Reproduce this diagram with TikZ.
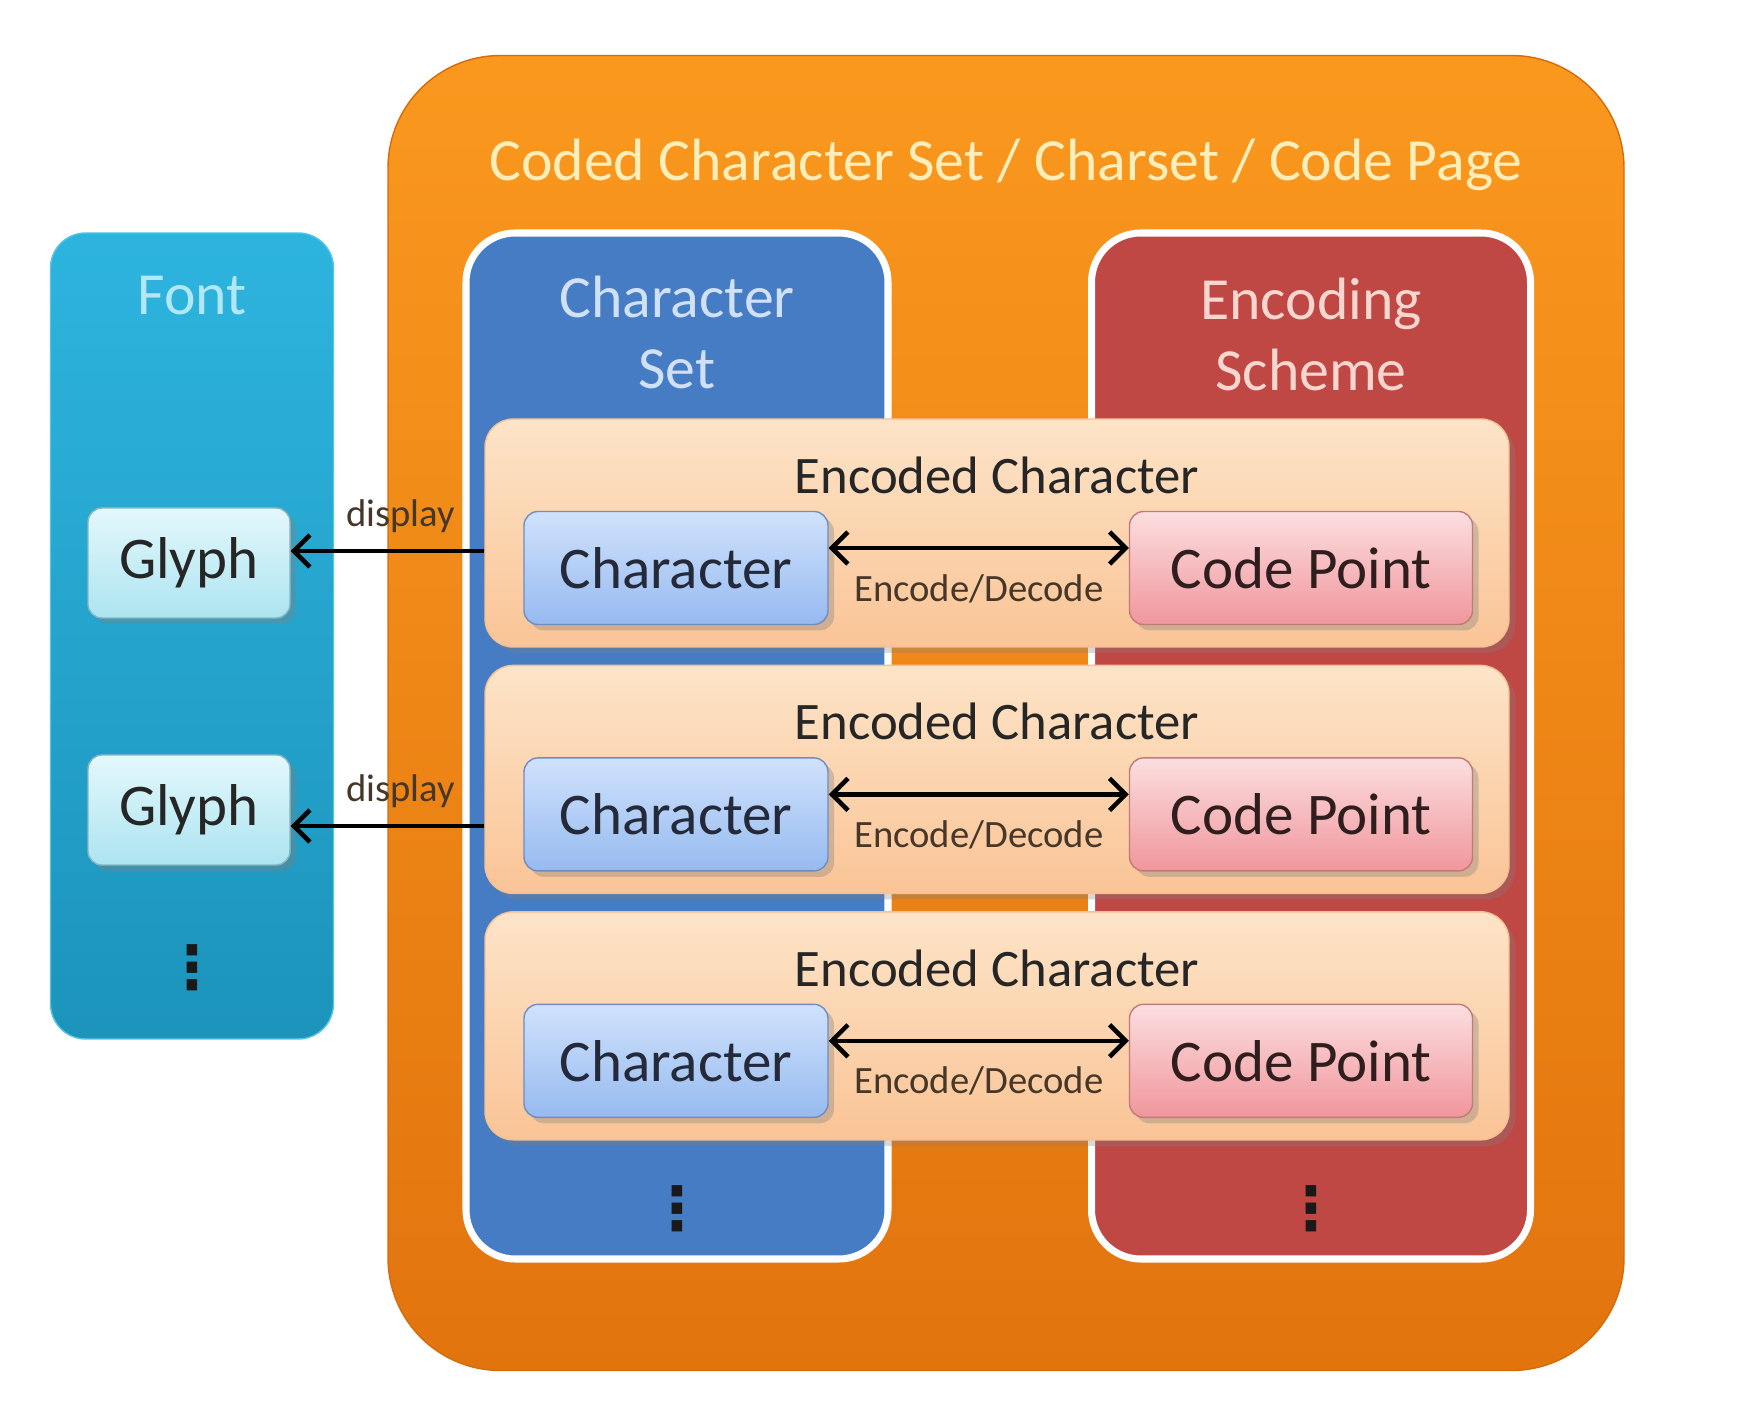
\documentclass[tikz,border=0pt]{standalone}
\usepackage{fontspec}
\setmainfont{Carlito}
\newfontfamily\dotsfont{DejaVu Sans}
\usetikzlibrary{arrows.meta, positioning, shadows}
\definecolor{ccstop}{RGB}{250,152,30}
\definecolor{ccsbot}{RGB}{226,116,14}
\definecolor{ccsline}{RGB}{212,108,10}
\definecolor{ccstext}{RGB}{255,238,186}
\definecolor{fonttop}{RGB}{45,180,222}
\definecolor{fontbot}{RGB}{28,148,188}
\definecolor{fonttext}{RGB}{178,232,246}
\definecolor{csblue}{RGB}{70,124,196}
\definecolor{cstext}{RGB}{208,224,246}
\definecolor{esred}{RGB}{192,72,68}
\definecolor{estext}{RGB}{246,214,206}
\definecolor{enctop}{RGB}{253,228,200}
\definecolor{encbot}{RGB}{250,196,150}
\definecolor{chrtop}{RGB}{208,226,252}
\definecolor{chrbot}{RGB}{150,186,240}
\definecolor{chrline}{RGB}{112,140,192}
\definecolor{chrtext}{RGB}{36,42,58}
\definecolor{cptop}{RGB}{252,222,224}
\definecolor{cpbot}{RGB}{240,150,156}
\definecolor{cpline}{RGB}{192,122,122}
\definecolor{cptext}{RGB}{48,30,30}
\definecolor{glyphtop}{RGB}{228,248,252}
\definecolor{glyphbot}{RGB}{172,228,240}
\definecolor{lbltext}{RGB}{70,55,40}
\tikzset{
  box/.style={rounded corners=4pt, align=center, inner sep=0pt},
  frame/.style={box, rounded corners=32pt, draw=ccsline, top color=ccstop, bottom color=ccsbot,
    minimum width=123.6mm, minimum height=131.5mm},
  fontbox/.style={box, rounded corners=10pt, draw=fonttop!80!white, top color=fonttop, bottom color=fontbot,
    minimum width=28.3mm, minimum height=80.6mm},
  column/.style={box, rounded corners=14pt, draw=white, line width=2pt, minimum height=102.6mm},
  coltext/.style={align=center, font=\fontsize{17}{20}\selectfont},
  enc/.style={box, rounded corners=8pt, draw=encbot!90!black!20!encbot, top color=enctop, bottom color=encbot,
    minimum width=102.4mm, minimum height=22.8mm,
    drop shadow={opacity=.3, shadow xshift=.6mm, shadow yshift=-.6mm}},
  enctext/.style={font=\fontsize{15}{18}\selectfont, text=black!85},
  chr/.style={box, draw=chrline, top color=chrtop, bottom color=chrbot, text=chrtext,
    minimum width=30.4mm, minimum height=11.3mm, font=\fontsize{16.8}{20}\selectfont,
    drop shadow={opacity=.35, shadow xshift=.6mm, shadow yshift=-.6mm}},
  cp/.style={box, draw=cpline, top color=cptop, bottom color=cpbot, text=cptext,
    minimum width=34.3mm, minimum height=11.3mm, font=\fontsize{16.8}{20}\selectfont,
    drop shadow={opacity=.35, shadow xshift=.6mm, shadow yshift=-.6mm}},
  glyph/.style={box, draw=glyphbot!80!black, top color=glyphtop, bottom color=glyphbot, text=black!85,
    minimum width=20.2mm, minimum height=11mm, font=\fontsize{16.8}{20}\selectfont,
    drop shadow={opacity=.35, shadow xshift=.6mm, shadow yshift=-.6mm}},
  more/.style={inner sep=0pt, font=\dotsfont\bfseries\fontsize{17}{20}\selectfont, text=black!90},
  lbl/.style={font=\fontsize{11}{13}\selectfont, text=lbltext, inner sep=0pt},
  arr/.style={-{Straight Barb[length=1.6mm, width=3.2mm]}, line width=1.3pt},
  dbl/.style={{Straight Barb[length=1.6mm, width=3.2mm]}-{Straight Barb[length=1.6mm, width=3.2mm]}, line width=1.3pt},
}

\begin{document}
\begin{tikzpicture}[x=0.1mm, y=-0.1mm, font=\fontsize{17}{20}\selectfont, node distance=1.7mm]
  \useasboundingbox[fill=white] (0,0) rectangle (1762,1414);

  % coded character set
  \node[frame] (ccs) at (1006,713) {};
  \node[text=ccstext] (ccstitle) at ([yshift=-11mm]ccs.north) {Coded Character Set / Charset / Code Page};

  \node[column, fill=csblue, minimum width=42.2mm] (cs) at (677,746) {};
  \node[column, fill=esred, minimum width=43.9mm] (es) at (1311,746) {};
  \node[coltext, text=cstext] (cstitle) at ([yshift=-10.3mm]cs.north) {Character\\Set};
  \node[coltext, text=estext] (estitle) at ([yshift=-10.5mm]es.north) {Encoding\\Scheme};
  \node[more] (csdots) at ([yshift=5.4mm]cs.south) {⋮};
  \node[more] (esdots) at ([yshift=5.4mm]es.south) {⋮};

  % font
  \node[fontbox] (font) at (192,636) {};
  \node[text=fonttext] (fonttitle) at ([yshift=-6.3mm]font.north) {Font};
  \node[more] (fontdots) at ([yshift=7.2mm]font.south) {⋮};

  % encoded characters
  \node[enc] (enc1) at (997,533) {};
  \node[enc, below=of enc1] (enc2) {};
  \node[enc, below=of enc2] (enc3) {};
  \foreach \i in {1,2,3} {
    \node[enctext] (enct\i) at ([yshift=-5.7mm]enc\i.north) {Encoded Character};
    \node[chr] (chr\i) at ([xshift=-32.1mm, yshift=-3.5mm]enc\i.center) {Character};
    \node[cp] (cp\i) at ([xshift=30.4mm, yshift=-3.5mm]enc\i.center) {Code Point};
    \draw[dbl] ([yshift=2mm]chr\i.east) -- node[lbl, below=2.4mm] {Encode/Decode} ([yshift=2mm]cp\i.west);
  }

  % glyphs
  \node[glyph] (g1) at (189,563) {Glyph};
  \node[glyph] (g2) at (189,810) {Glyph};
  \coordinate (d1) at ([yshift=1.2mm]g1.east);
  \coordinate (d2) at ([yshift=-1.6mm]g2.east);
  \draw[arr] (d1 -| enc1.west) -- node[lbl, above=1.6mm, xshift=1.3mm] {display} (d1);
  \draw[arr] (d2 -| enc2.west) -- node[lbl, above=1.6mm, xshift=1.3mm] {display} (d2);
\end{tikzpicture}
\end{document}
